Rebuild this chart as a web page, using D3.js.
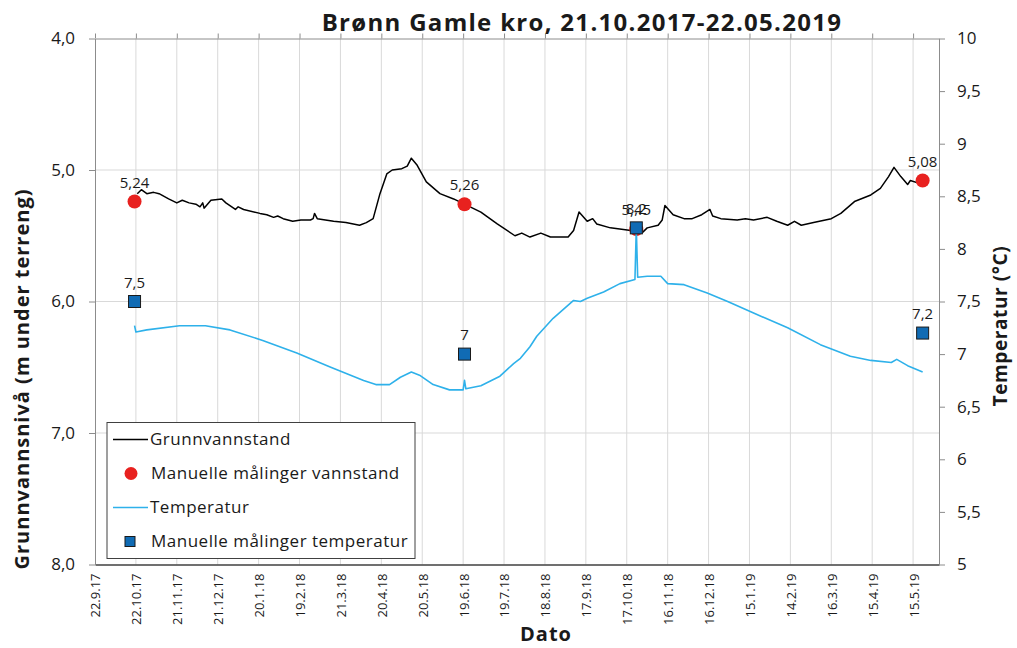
<!DOCTYPE html>
<html>
<head>
<meta charset="utf-8">
<script src="https://cdn.jsdelivr.net/npm/d3@7"></script>
<style>
  body { margin: 0; background: #fff; }
  text { font-family: "Open Sans", "Noto Sans", sans-serif; fill: #1a1a1a; }
</style>
</head>
<body>
<div id="chart"></div>
<script>
// Groundwater level, m below terrain (logger)
var levelSeries = [
  ["2017-10-23", 5.18], ["2017-10-26", 5.15], ["2017-10-30", 5.18], ["2017-11-04", 5.17],
  ["2017-11-08", 5.18], ["2017-11-15", 5.22], ["2017-11-21", 5.25], ["2017-11-25", 5.23],
  ["2017-11-30", 5.25], ["2017-12-05", 5.26], ["2017-12-08", 5.28], ["2017-12-10", 5.25],
  ["2017-12-11", 5.29], ["2017-12-16", 5.23], ["2017-12-24", 5.22], ["2017-12-27", 5.25],
  ["2018-01-03", 5.30], ["2018-01-05", 5.28], ["2018-01-09", 5.30], ["2018-01-21", 5.33],
  ["2018-01-26", 5.34], ["2018-01-31", 5.36], ["2018-02-03", 5.35], ["2018-02-07", 5.37],
  ["2018-02-14", 5.39], ["2018-02-20", 5.38], ["2018-02-27", 5.38], ["2018-03-01", 5.37],
  ["2018-03-02", 5.33], ["2018-03-04", 5.37], ["2018-03-16", 5.39], ["2018-03-25", 5.40],
  ["2018-04-04", 5.42], ["2018-04-09", 5.40], ["2018-04-14", 5.37], ["2018-04-19", 5.18],
  ["2018-04-24", 5.03], ["2018-04-28", 5.00], ["2018-05-05", 4.99], ["2018-05-09", 4.97],
  ["2018-05-12", 4.91], ["2018-05-16", 4.96], ["2018-05-23", 5.09], ["2018-06-02", 5.18],
  ["2018-06-12", 5.22], ["2018-06-20", 5.26], ["2018-07-02", 5.32], ["2018-07-14", 5.41],
  ["2018-07-27", 5.50], ["2018-08-01", 5.48], ["2018-08-07", 5.51], ["2018-08-15", 5.48],
  ["2018-08-22", 5.51], ["2018-09-04", 5.51], ["2018-09-08", 5.46], ["2018-09-12", 5.32],
  ["2018-09-18", 5.39], ["2018-09-22", 5.37], ["2018-09-25", 5.41], ["2018-10-05", 5.44],
  ["2018-10-20", 5.46], ["2018-10-28", 5.48], ["2018-11-01", 5.44], ["2018-11-09", 5.42],
  ["2018-11-12", 5.38], ["2018-11-14", 5.27], ["2018-11-20", 5.34], ["2018-11-28", 5.37],
  ["2018-12-04", 5.37], ["2018-12-11", 5.34], ["2018-12-17", 5.30], ["2018-12-19", 5.35],
  ["2018-12-25", 5.37], ["2019-01-06", 5.38], ["2019-01-12", 5.37], ["2019-01-18", 5.38],
  ["2019-01-28", 5.36], ["2019-02-04", 5.39], ["2019-02-12", 5.42], ["2019-02-17", 5.39],
  ["2019-02-22", 5.42], ["2019-03-03", 5.40], ["2019-03-16", 5.37], ["2019-03-23", 5.33],
  ["2019-04-02", 5.24], ["2019-04-14", 5.19], ["2019-04-21", 5.14], ["2019-04-27", 5.05],
  ["2019-05-01", 4.98], ["2019-05-06", 5.05], ["2019-05-11", 5.11], ["2019-05-13", 5.08],
  ["2019-05-19", 5.10], ["2019-05-21", 5.09]
];

// Water temperature, °C (logger)
var tempSeries = [
  ["2017-10-21", 7.27], ["2017-10-22", 7.21], ["2017-10-30", 7.23], ["2017-11-23", 7.27],
  ["2017-12-12", 7.27], ["2017-12-30", 7.23], ["2018-01-23", 7.13], ["2018-02-17", 7.01],
  ["2018-03-13", 6.88], ["2018-04-07", 6.75], ["2018-04-16", 6.71], ["2018-04-26", 6.71],
  ["2018-05-04", 6.78], ["2018-05-12", 6.83], ["2018-05-18", 6.80], ["2018-05-28", 6.71],
  ["2018-06-09", 6.66], ["2018-06-19", 6.66], ["2018-06-20", 6.75], ["2018-06-21", 6.67],
  ["2018-07-02", 6.70], ["2018-07-16", 6.79], ["2018-07-26", 6.91], ["2018-07-31", 6.96],
  ["2018-08-07", 7.07], ["2018-08-12", 7.17], ["2018-08-24", 7.34], ["2018-09-08", 7.51],
  ["2018-09-13", 7.50], ["2018-09-18", 7.53], ["2018-09-30", 7.59], ["2018-10-12", 7.67],
  ["2018-10-23", 7.71], ["2018-10-24", 8.20], ["2018-10-25", 7.73], ["2018-11-01", 7.74],
  ["2018-11-11", 7.74], ["2018-11-16", 7.67], ["2018-11-28", 7.66], ["2018-12-15", 7.58],
  ["2018-12-30", 7.50], ["2019-01-18", 7.39], ["2019-02-12", 7.25], ["2019-03-08", 7.09],
  ["2019-03-30", 6.98], ["2019-04-14", 6.94], ["2019-04-29", 6.92], ["2019-05-03", 6.95],
  ["2019-05-11", 6.89], ["2019-05-22", 6.83]
];

// Manual measurements
var manualDates = ["2017-10-21", "2018-06-20", "2018-10-24", "2019-05-22"];
var manualLevel = [5.24, 5.26, 5.45, 5.08];
var manualTemp = [7.5, 7.0, 8.2, 7.2];

// Axis ticks
var tickLabels = ["22.9.17", "22.10.17", "21.11.17", "21.12.17", "20.1.18", "19.2.18", "21.3.18",
  "20.4.18", "20.5.18", "19.6.18", "19.7.18", "18.8.18", "17.9.18", "17.10.18", "16.11.18",
  "16.12.18", "15.1.19", "14.2.19", "16.3.19", "15.4.19", "15.5.19"];
var levelTicks = [4, 5, 6, 7, 8];
var tempTicks = [5, 5.5, 6, 6.5, 7, 7.5, 8, 8.5, 9, 9.5, 10];

var svgWidth = 1017;
var svgHeight = 648;
var margin = { top: 38.5, right: 78, bottom: 83.5, left: 95 };
var width = svgWidth - margin.left - margin.right;
var height = svgHeight - margin.top - margin.bottom;

var parseIso = d3.timeParse("%Y-%m-%d");
var parseTick = d3.timeParse("%d.%m.%y");
var comma = function(v) { return String(v).replace(".", ","); };

var svg = d3.select("#chart").append("svg")
  .attr("width", svgWidth)
  .attr("height", svgHeight);

var chartGroup = svg.append("g")
  .attr("transform", `translate(${margin.left}, ${margin.top})`);

var tickDates = tickLabels.map(function(t) { return parseTick(t); });

var x = d3.scaleTime()
  .domain([parseIso("2017-09-22"), parseIso("2019-06-03")])
  .range([0, width]);
var yLevel = d3.scaleLinear().domain([4, 8]).range([0, height]);
var yTemp = d3.scaleLinear().domain([10, 5]).range([0, height]);

// gridlines
chartGroup.selectAll(".vgrid")
  .data(tickDates.slice(1))
  .enter().append("line")
  .attr("x1", d => x(d)).attr("x2", d => x(d))
  .attr("y1", 0).attr("y2", height)
  .attr("stroke", "#d9d9d9").attr("stroke-width", 1);

chartGroup.selectAll(".hgrid")
  .data(levelTicks.slice(1, -1))
  .enter().append("line")
  .attr("x1", 0).attr("x2", width)
  .attr("y1", d => yLevel(d)).attr("y2", d => yLevel(d))
  .attr("stroke", "#d9d9d9").attr("stroke-width", 1);

// top axis (ticks only)
var topAxis = chartGroup.append("g")
  .call(d3.axisTop(x).tickValues(tickDates).tickFormat("").tickSize(5).tickSizeOuter(0));
topAxis.selectAll("path, line").attr("stroke", "#8c8c8c");

// bottom axis with rotated date labels
var bottomAxis = chartGroup.append("g")
  .attr("transform", `translate(0, ${height})`)
  .call(d3.axisBottom(x).tickValues(tickDates).tickSize(0).tickSizeOuter(0)
    .tickFormat(function(d, i) { return tickLabels[i]; }));
bottomAxis.select(".domain").attr("stroke", "#404040").attr("stroke-width", 1.3);
bottomAxis.selectAll("text")
  .attr("transform", "rotate(-90)")
  .attr("text-anchor", "end")
  .attr("x", -9).attr("y", 0).attr("dy", "0.38em")
  .style("font-size", "13px")
  .style("font-family", "'Open Sans', sans-serif")
  .attr("fill", "#1a1a1a");

// left axis
var leftAxis = chartGroup.append("g")
  .call(d3.axisLeft(yLevel).tickValues(levelTicks).tickSize(6).tickPadding(14).tickSizeOuter(0)
    .tickFormat(d => d3.format(".1f")(d).replace(".", ",")));
leftAxis.selectAll("path, line").attr("stroke", "#8c8c8c");
leftAxis.selectAll("text").style("font-size", "17px")
  .style("font-family", "'Open Sans', sans-serif").attr("fill", "#1a1a1a");

// right axis
var rightAxis = chartGroup.append("g")
  .attr("transform", `translate(${width}, 0)`)
  .call(d3.axisRight(yTemp).tickValues(tempTicks).tickSize(6).tickPadding(12).tickSizeOuter(0)
    .tickFormat(comma));
rightAxis.selectAll("path, line").attr("stroke", "#8c8c8c");
rightAxis.selectAll("text").style("font-size", "17px")
  .style("font-family", "'Open Sans', sans-serif").attr("fill", "#1a1a1a");

// lines
var levelLine = d3.line()
  .x(d => x(parseIso(d[0])))
  .y(d => yLevel(d[1]));
var tempLine = d3.line()
  .x(d => x(parseIso(d[0])))
  .y(d => yTemp(d[1]));

chartGroup.append("path")
  .datum(levelSeries)
  .attr("d", levelLine)
  .attr("fill", "none")
  .attr("stroke", "#000")
  .attr("stroke-width", 1.5)
  .attr("stroke-linejoin", "round");

// manual water level
chartGroup.selectAll(".mlevel")
  .data(manualDates)
  .enter().append("circle")
  .attr("cx", d => x(parseIso(d)))
  .attr("cy", (d, i) => yLevel(manualLevel[i]))
  .attr("r", 7)
  .attr("fill", "#e8211f");

chartGroup.append("path")
  .datum(tempSeries)
  .attr("d", tempLine)
  .attr("fill", "none")
  .attr("stroke", "#2eb1ea")
  .attr("stroke-width", 1.6)
  .attr("stroke-linejoin", "round");

// manual temperature
chartGroup.selectAll(".mtemp")
  .data(manualDates)
  .enter().append("rect")
  .attr("x", d => x(parseIso(d)) - 6)
  .attr("y", (d, i) => yTemp(manualTemp[i]) - 6)
  .attr("width", 12).attr("height", 12)
  .attr("fill", "#106bb4")
  .attr("stroke", "#1a1a1a").attr("stroke-width", 1);

// data labels (the two at 24.10.18 sit on top of each other, as in the original)
chartGroup.selectAll(".llabel")
  .data(manualDates)
  .enter().append("text")
  .attr("x", d => x(parseIso(d)))
  .attr("y", (d, i) => yLevel(manualLevel[i]) - 14)
  .attr("text-anchor", "middle")
  .style("font-size", "15px")
  .attr("fill", "#262626")
  .text((d, i) => comma(manualLevel[i]));

chartGroup.selectAll(".tlabel")
  .data(manualDates)
  .enter().append("text")
  .attr("x", d => x(parseIso(d)))
  .attr("y", (d, i) => yTemp(manualTemp[i]) - 14)
  .attr("text-anchor", "middle")
  .style("font-size", "15px")
  .attr("fill", "#262626")
  .text((d, i) => comma(manualTemp[i]));

// legend
var legend = svg.append("g").attr("transform", "translate(107, 422.5)");
legend.append("rect")
  .attr("width", 308).attr("height", 136)
  .attr("fill", "#fff").attr("stroke", "#404040").attr("stroke-width", 1);

var legendItems = ["Grunnvannstand", "Manuelle målinger vannstand", "Temperatur", "Manuelle målinger temperatur"];
legendItems.forEach(function(name, i) {
  var cy = 17 + i * 34;
  if (i === 0 || i === 2) {
    legend.append("line")
      .attr("x1", 6).attr("x2", 41).attr("y1", cy).attr("y2", cy)
      .attr("stroke", i === 0 ? "#000" : "#2eb1ea").attr("stroke-width", 1.3);
  } else if (i === 1) {
    legend.append("circle").attr("cx", 24).attr("cy", cy).attr("r", 6.5).attr("fill", "#e8211f");
  } else {
    legend.append("rect").attr("x", 18).attr("y", cy - 5).attr("width", 10).attr("height", 10)
      .attr("fill", "#106bb4").attr("stroke", "#1a1a1a");
  }
  legend.append("text")
    .attr("x", i === 0 || i === 2 ? 43 : 44)
    .attr("y", cy).attr("dy", "0.35em")
    .style("font-size", "17px")
    .style("letter-spacing", "0.5px")
    .text(name);
});

// titles
svg.append("text")
  .attr("x", 582).attr("y", 31)
  .attr("text-anchor", "middle")
  .style("font-size", "24px").style("font-weight", "bold")
  .style("letter-spacing", "1.3px")
  .text("Brønn Gamle kro, 21.10.2017-22.05.2019");

svg.append("text")
  .attr("transform", "translate(29, 379) rotate(-90)")
  .attr("text-anchor", "middle")
  .style("font-size", "20px").style("font-weight", "bold")
  .style("letter-spacing", "1px")
  .text("Grunnvannsnivå (m under terreng)");

svg.append("text")
  .attr("transform", "translate(1007, 326) rotate(-90)")
  .attr("text-anchor", "middle")
  .style("font-size", "19px").style("font-weight", "bold")
  .style("letter-spacing", "0.6px")
  .text("Temperatur (°C)");

svg.append("text")
  .attr("x", 546).attr("y", 641)
  .attr("text-anchor", "middle")
  .style("font-size", "20px").style("font-weight", "bold")
  .style("letter-spacing", "1px")
  .text("Dato");
</script>
</body>
</html>
